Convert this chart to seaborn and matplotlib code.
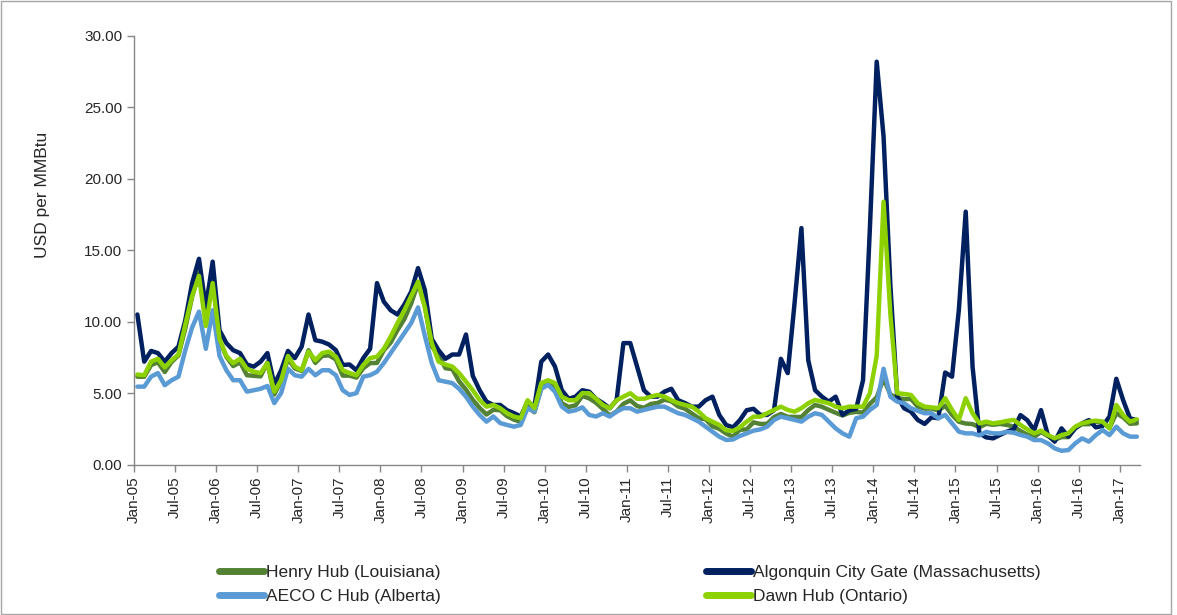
import pandas as pd
import matplotlib.pyplot as plt
import matplotlib.ticker as mtick
from matplotlib.patches import Rectangle
import seaborn as sns

# monthly prices, Jan-05 .. Mar-17 (USD per MMBtu), one row per year
henry = [6.15, 6.14, 6.96, 7.16, 6.47, 7.18, 7.63, 9.53, 11.75, 13.42, 10.30, 13.05,
         8.69, 7.54, 6.89, 7.16, 6.25, 6.21, 6.17, 7.14, 4.90, 5.85, 7.41, 6.73,
         6.55, 8.00, 7.11, 7.60, 7.64, 7.35, 6.22, 6.22, 6.08, 6.74, 7.10, 7.11,
         7.99, 8.54, 9.41, 10.18, 11.27, 12.69, 11.09, 8.26, 7.67, 6.74, 6.68, 5.82,
         5.24, 4.52, 3.96, 3.50, 3.83, 3.80, 3.38, 3.14, 2.99, 4.01, 3.66, 5.35,
         5.83, 5.32, 4.29, 4.03, 4.14, 4.80, 4.63, 4.32, 3.89, 3.43, 3.71, 4.25,
         4.49, 4.09, 3.97, 4.24, 4.31, 4.54, 4.42, 4.06, 3.90, 3.57, 3.24, 3.17,
         2.67, 2.50, 2.17, 1.95, 2.43, 2.46, 2.95, 2.84, 2.85, 3.32, 3.54, 3.34,
         3.33, 3.33, 3.81, 4.17, 4.04, 3.83, 3.62, 3.43, 3.62, 3.68, 3.64, 4.24,
         4.71, 6.00, 4.90, 4.66, 4.58, 4.59, 4.05, 3.91, 3.92, 3.78, 4.12, 3.48,
         2.99, 2.87, 2.83, 2.61, 2.85, 2.78, 2.84, 2.77, 2.66, 2.34, 2.09, 1.93,
         2.28, 1.99, 1.73, 1.92, 1.92, 2.59, 2.82, 2.82, 2.99, 2.98, 2.55, 3.59,
         3.30, 2.85, 2.88]

algonquin = [10.5, 7.2, 7.95, 7.8, 7.2, 7.8, 8.25, 10.1, 12.7, 14.4, 11.0, 14.2,
             9.4, 8.5, 8.0, 7.8, 7.0, 6.85, 7.2, 7.8, 5.6, 6.6, 7.95, 7.45,
             8.25, 10.5, 8.7, 8.6, 8.4, 8.0, 6.97, 7.0, 6.6, 7.45, 8.1, 12.7,
             11.4, 10.8, 10.5, 11.2, 12.1, 13.75, 12.2, 8.8, 8.0, 7.4, 7.7, 7.7,
             9.1, 6.2, 5.2, 4.4, 4.17, 4.17, 3.8, 3.6, 3.36, 4.4, 4.05, 7.2,
             7.7, 6.86, 5.2, 4.6, 4.75, 5.2, 5.1, 4.6, 4.3, 3.94, 4.5, 8.5,
             8.5, 6.86, 5.2, 4.75, 4.75, 5.1, 5.3, 4.5, 4.3, 4.05, 4.05, 4.5,
             4.75, 3.47, 2.77, 2.6, 3.1, 3.8, 3.9, 3.47, 3.47, 3.8, 7.4, 6.4,
             11.3, 16.55, 7.3, 5.2, 4.75, 4.4, 4.75, 3.47, 3.8, 3.9, 5.9, 16.5,
             28.2, 22.97, 12.5, 4.75, 3.94, 3.7, 3.12, 2.84, 3.3, 3.24, 6.44, 6.15,
             10.83, 17.7, 6.85, 2.18, 1.9, 1.83, 2.07, 2.3, 2.46, 3.46, 3.1, 2.41,
             3.81, 2.06, 1.6, 2.53, 1.95, 2.53, 2.88, 3.11, 2.6, 2.7, 3.35, 6.0,
             4.5, 3.23, 3.11]

aeco = [5.45, 5.45, 6.15, 6.4, 5.55, 5.9, 6.15, 8.0, 9.6, 10.7, 8.1, 10.8,
        7.6, 6.6, 5.9, 5.9, 5.1, 5.2, 5.3, 5.5, 4.3, 5.0, 6.7, 6.25,
        6.15, 6.7, 6.25, 6.6, 6.6, 6.25, 5.2, 4.87, 5.0, 6.15, 6.25, 6.5,
        7.1, 7.8, 8.5, 9.2, 9.9, 11.0, 9.0, 7.1, 5.9, 5.8, 5.7, 5.3,
        4.75, 4.05, 3.47, 3.0, 3.36, 2.9, 2.77, 2.65, 2.77, 3.94, 3.7, 5.3,
        5.57, 5.1, 4.05, 3.7, 3.8, 4.0, 3.47, 3.36, 3.59, 3.36, 3.7, 3.94,
        3.94, 3.7, 3.82, 3.94, 4.05, 4.05, 3.82, 3.59, 3.47, 3.24, 3.0, 2.65,
        2.3, 1.95, 1.72, 1.75, 2.0, 2.18, 2.37, 2.46, 2.65, 3.12, 3.35, 3.24,
        3.12, 3.0, 3.35, 3.59, 3.47, 3.0, 2.53, 2.18, 1.95, 3.24, 3.35, 3.82,
        4.17, 6.7, 4.75, 4.4, 4.29, 3.94, 3.75, 3.59, 3.59, 3.24, 3.47, 2.88,
        2.3, 2.18, 2.18, 2.04, 2.28, 2.18, 2.18, 2.28, 2.23, 2.07, 1.95, 1.71,
        1.71, 1.48, 1.13, 0.96, 1.01, 1.48, 1.83, 1.6, 2.06, 2.41, 2.06, 2.65,
        2.18, 1.95, 1.95]

dawn = [6.3, 6.25, 7.2, 7.4, 6.8, 7.3, 7.7, 9.8, 11.8, 13.2, 9.7, 12.7,
        8.8, 7.6, 7.1, 7.4, 6.7, 6.5, 6.4, 7.1, 5.1, 5.9, 7.6, 6.85,
        6.6, 7.9, 7.3, 7.8, 7.9, 7.55, 6.6, 6.4, 6.25, 6.97, 7.45, 7.55,
        8.1, 8.95, 9.9, 10.8, 11.8, 12.8, 11.0, 8.5, 7.2, 7.0, 6.86, 6.4,
        5.8, 5.2, 4.5, 4.05, 4.17, 3.94, 3.59, 3.36, 3.24, 4.5, 3.94, 5.7,
        5.9, 5.7, 4.75, 4.5, 4.5, 5.0, 4.99, 4.6, 4.17, 3.94, 4.5, 4.75,
        4.99, 4.6, 4.6, 4.75, 4.87, 4.75, 4.5, 4.3, 4.17, 4.05, 3.7, 3.24,
        3.0, 2.77, 2.4, 2.35, 2.6, 3.0, 3.35, 3.35, 3.59, 3.82, 4.05, 3.82,
        3.7, 3.94, 4.29, 4.52, 4.4, 4.29, 4.05, 3.94, 4.05, 4.05, 4.05, 5.0,
        7.6, 18.4, 10.5, 4.99, 4.94, 4.87, 4.29, 4.05, 4.0, 3.94, 4.64, 3.82,
        3.12, 4.64, 3.59, 2.88, 3.0, 2.88, 2.95, 3.05, 3.12, 2.77, 2.46, 2.18,
        2.37, 2.06, 1.83, 2.06, 2.18, 2.65, 2.88, 3.0, 3.07, 3.0, 2.53, 4.17,
        3.46, 3.0, 3.16]

series_names = ['Henry Hub (Louisiana)', 'Algonquin City Gate (Massachusetts)',
                'AECO C Hub (Alberta)', 'Dawn Hub (Ontario)']
series_colors = ['#548235', '#002060', '#5B9BD5', '#8DD100']

months = pd.date_range('2005-01-01', periods=len(henry), freq='MS')
tick_labels = [d.strftime('%b-%y') for d in months[::6]]

frames = []
for name, vals in zip(series_names, [henry, algonquin, aeco, dawn]):
    frames.append(pd.DataFrame({'idx': range(len(vals)), 'price': vals, 'hub': name}))
df = pd.concat(frames, ignore_index=True)

sns.set_style('white')
plt.rcParams['font.family'] = ['Liberation Sans', 'DejaVu Sans']

fig = plt.figure(figsize=(11.77, 6.15), dpi=100)
ax = fig.add_axes([0.1138, 0.2447, 0.855, 0.6968])

sns.lineplot(data=df, x='idx', y='price', hue='hub', hue_order=series_names,
             palette=series_colors, linewidth=3.2, ax=ax, legend=False)

n = len(henry)
ax.set_xlim(-0.5, n - 0.5)
ax.set_ylim(0, 30)
ax.set_xticks([i - 0.5 for i in range(0, n, 6)])
ax.set_xticklabels(tick_labels, rotation=90, fontsize=11)
ax.yaxis.set_major_locator(mtick.MultipleLocator(5))
ax.yaxis.set_major_formatter(mtick.FormatStrFormatter('%.2f'))
ax.tick_params(axis='y', labelsize=11, length=5, width=1, color='#868686', direction='out', left=True)
ax.tick_params(axis='x', length=5, width=1, color='#868686', direction='out', bottom=True)
ax.set_xlabel('')
ax.set_ylabel('USD per MMBtu', fontsize=12.5)
ax.yaxis.set_label_coords(-0.0835, 0.63)

for side in ['top', 'right']:
    ax.spines[side].set_visible(False)
for side in ['left', 'bottom']:
    ax.spines[side].set_color('#868686')
    ax.spines[side].set_linewidth(1)
ax.grid(False)

# legend filled row by row like the original: Henry, Algonquin / AECO, Dawn
handles = [plt.Line2D([], [], color=c, linewidth=5) for c in series_colors]
order = [0, 2, 1, 3]
fig.legend([handles[i] for i in order], [series_names[i] for i in order],
           loc='center', bbox_to_anchor=(0.535, 0.05),
           ncol=2, frameon=False, fontsize=12.5, handlelength=2.6, handletextpad=0.1,
           columnspacing=15.3, labelspacing=0.5)

fig.patches.append(Rectangle((0.001, 0.001), 0.994, 0.997, transform=fig.transFigure,
                             fill=False, edgecolor='#a6a6a6', linewidth=1))

fig.savefig('out.png', dpi=100)
